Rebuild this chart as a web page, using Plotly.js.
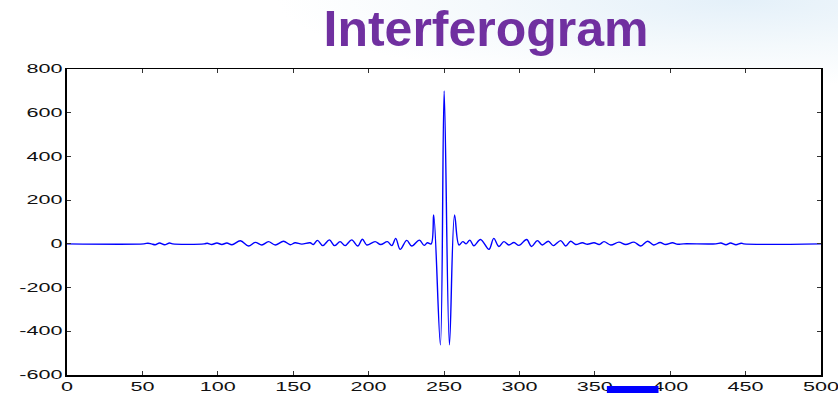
<!DOCTYPE html>
<html>
<head>
<meta charset="utf-8">
<script src="https://cdn.plot.ly/plotly-3.0.1.min.js"></script>
<style>
  html, body { margin: 0; padding: 0; }
  body {
    width: 838px; height: 393px; overflow: hidden;
    background: radial-gradient(ellipse 55% 22% at 88% 0%, #e4f0f9 0%, #f4f9fc 55%, #ffffff 100%);
  }
  #chart { width: 838px; height: 393px; }
</style>
</head>
<body>
<div id="chart"></div>
<script>
// Optical path difference (sample position) of each turning point of the trace
const pathDiff = [
  0, 51, 53.7, 56, 58.5, 61.4, 64.7, 68, 70,
  91, 93, 96, 99.4, 102.7, 106, 109.4, 115, 120.4, 124.8,
  129.2, 133.6, 138.1, 143.6, 148, 151.3, 155.7, 161.2, 163.4, 166.1,
  169.6, 174, 177.4, 181.1, 184.4, 188.8, 192.8, 195.9, 198.8, 204.3,
  208, 212.5, 215.4, 218, 220.9, 225.3, 228.6, 233.7, 236.8, 239,
  241.5, 243.2, 247.6, 250.1, 253.6, 257, 259.9, 262.5, 264.7, 267.1,
  269.8, 274.2, 279.8, 283, 286.4, 289.7, 293, 296.4, 299.7, 304.8,
  308, 311.9, 315.2, 319.2, 322.5, 327.4, 330.7, 334, 337.3, 341.8,
  345.1, 349.5, 353, 356.1, 360.6, 366, 370.5, 376, 380.5, 385,
  389, 393.3, 397, 401.5, 405, 408.8, 430.3, 433.6, 437, 440,
  443.6, 447, 448.7, 500
];

// Detector intensity at those points
const intensity = [
  0, 0, 3, 0, -4, 4, -4, 4, 0,
  0, 3, -3, 4, -3, 4, -4, 14, -10, 7,
  -5, 10, -5, 12, -4, 5, -1, 5, -3, 16,
  -8, 18, -8, 10, -8, 18, -10, 21, -5, 10,
  -3, 10, -8, 25, -25, 16, -10, 17, -7, 5,
  0, 132, -462, 700, -462, 132, -5, 10, 0, 17,
  -9, 20, -25, 25, -12, 10, -5, 6, -7, 20,
  -12, 15, -5, 12, -8, 15, -10, 12, -3, 5,
  -2, 5, -3, 10, -5, 8, -3, 8, -10, 12,
  -5, 6, -3, 5, -2, 0, 0, 4, -4, 4,
  -4, 3, 0, 0
];

const xTicks = [0, 50, 100, 150, 200, 250, 300, 350, 400, 450, 500];
const yTicks = [-600, -400, -200, 0, 200, 400, 600, 800];

const LABEL_STRETCH = 1.8;

const trace = {
  x: pathDiff,
  y: intensity,
  type: 'scatter',
  mode: 'lines',
  line: { color: '#0000ff', width: 1.4, shape: 'spline', smoothing: 1 },
  hoverinfo: 'skip'
};

const tickFont = { family: 'Liberation Sans, Arial, sans-serif', size: 12, color: '#111111' };

const layout = {
  width: 838,
  height: 393,
  margin: { l: 67, r: 17, t: 69, b: 18 },
  paper_bgcolor: 'rgba(0,0,0,0)',
  plot_bgcolor: '#ffffff',
  showlegend: false,
  title: {
    text: '<b>Interferogram</b>',
    font: { family: '"Liberation Sans", Arial, sans-serif', size: 50, color: '#7030a0' },
    xref: 'container', x: 0.58, xanchor: 'center',
    yref: 'container', y: 0.9275, yanchor: 'middle'
  },
  xaxis: {
    range: [0, 500],
    tickmode: 'array', tickvals: xTicks, ticktext: xTicks.map(String),
    ticks: 'inside', ticklen: 4, tickwidth: 1, tickcolor: '#333333',
    showline: true, linecolor: '#000000', linewidth: 1.5, mirror: 'ticks',
    showgrid: false, zeroline: false,
    tickfont: tickFont
  },
  yaxis: {
    range: [-600, 800],
    tickmode: 'array', tickvals: yTicks, ticktext: yTicks.map(String),
    ticks: 'inside', ticklen: 4, tickwidth: 1, tickcolor: '#333333',
    showline: true, linecolor: '#000000', linewidth: 2, mirror: 'ticks',
    showgrid: false, zeroline: false,
    tickfont: tickFont
  },
  shapes: [{
    type: 'rect', xref: 'paper', yref: 'paper',
    x0: 0.716, x1: 0.7845, y0: -0.075, y1: -0.036,
    fillcolor: '#0000ff', line: { width: 0 }, layer: 'above'
  }]
};

// Widen the axis numerals horizontally around their anchor point
function widenTickLabels(gd) {
  gd.querySelectorAll('.xtick text, .ytick text').forEach(function (t) {
    const tr = t.getAttribute('transform') || '';
    if (tr.indexOf('scale') >= 0) return;
    const x0 = parseFloat(t.getAttribute('x')) || 0;
    t.setAttribute('transform',
      tr + ' translate(' + x0 + ',0) scale(' + LABEL_STRETCH + ',1) translate(' + (-x0) + ',0)');
  });
}

Plotly.newPlot('chart', [trace], layout, { displayModeBar: false, staticPlot: true })
  .then(function (gd) {
    widenTickLabels(gd);
    gd.on('plotly_afterplot', function () { widenTickLabels(gd); });
  });
</script>
</body>
</html>
